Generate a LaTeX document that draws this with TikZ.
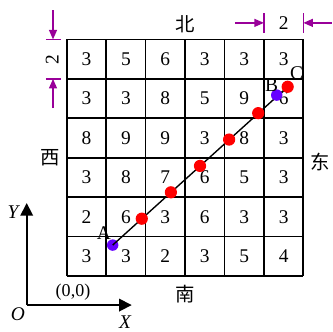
\documentclass[tikz,border=0pt]{standalone}
\usepackage{tikz}
\usetikzlibrary{arrows.meta,positioning,calc}
\usepackage{fontspec}
\setmainfont{Liberation Serif}
\newfontfamily\cjkfont{Noto Sans CJK SC}
\definecolor{dimcol}{RGB}{153,0,153}
\definecolor{startcol}{RGB}{102,0,255}
\definecolor{pathcol}{RGB}{255,0,0}

\begin{document}
\begin{tikzpicture}[
    >={Triangle[length=3.2mm, width=3.2mm]},
    cell/.style={font=\fontsize{14}{16}\selectfont},
    dir/.style={font=\cjkfont\fontsize{14}{16}\selectfont},
    ptlabel/.style={font=\fontsize{14}{16}\selectfont, inner sep=0pt},
    reddot/.style={circle, fill=pathcol, minimum size=3.1mm, inner sep=0pt},
    enddot/.style={circle, fill=startcol, minimum size=2.9mm, inner sep=0pt},
    dimline/.style={dimcol, line width=1pt},
    dimarrow/.style={dimcol, line width=1pt, -{Triangle[length=2.4mm, width=2mm]}},
]
\useasboundingbox (-1.691,-1.395) rectangle (6.752,7.0);

% grid of values
\draw[line width=1.2pt] (0,0) grid (6,6);
\foreach \row/\vals in {1/{3,5,6,3,3,3}, 2/{3,3,8,5,9,6}, 3/{8,9,9,3,8,3},
                        4/{3,8,7,6,5,3}, 5/{2,6,3,6,3,3}, 6/{3,3,2,3,5,4}} {
  \foreach \v [count=\col] in \vals {
    \node[cell] (c\row\col) at (\col-0.5, 6.5-\row) {\v};
  }
}

% directions
\node[dir] (north) at (3,6.39) {北};
\node[dir] (south) at (3,-0.456) {南};
\node[dir] (west) at (-0.423,2.99) {西};
\node[dir] (east) at (6.42,2.9) {东};

% path A -> C
\node[enddot] (A) at (1.166,0.786) {};
\coordinate (C) at (5.603,4.80);
\draw[line width=1pt] (A.center) -- (C);
\foreach \k in {1,...,5} {
  \node[reddot] (p\k) at ($(A)+\k*(0.738,0.669)$) {};
}
\node[enddot] (B) at (5.325,4.589) {};
\node[reddot] (Cdot) at (C) {};
\node[ptlabel] (labA) at (0.946,1.083) {A};
\node[ptlabel] (labB) at (5.198,4.843) {B};
\node[ptlabel] (labC) at (5.832,5.155) {C};

% cell size marks
\coordinate (t1) at (5,6.17);
\coordinate (t1e) at (5,6.676);
\coordinate (t2) at (6,6.17);
\coordinate (t2e) at (6,6.676);
\draw[dimline] (t1) -- (t1e);
\draw[dimline] (t2) -- (t2e);
\coordinate (ta) at (4.267,6.42);
\coordinate (tb) at (6.72,6.42);
\draw[dimarrow] (ta) -- (5,6.42);
\draw[dimarrow] (tb) -- (6,6.42);
\node[cell] (topsize) at (5.5,6.42) {2};

\coordinate (l1) at (-0.525,6);
\coordinate (l1e) at (-0.145,6);
\coordinate (l2) at (-0.525,5);
\coordinate (l2e) at (-0.145,5);
\draw[dimline] (l1) -- (l1e);
\draw[dimline] (l2) -- (l2e);
\coordinate (la) at (-0.347,6.744);
\coordinate (lb) at (-0.347,4.26);
\draw[dimarrow] (la) -- (-0.347,6);
\draw[dimarrow] (lb) -- (-0.347,5);
\node[cell, rotate=90] (leftsize) at (-0.37,5.48) {2};

% axes
\coordinate (O) at (-1.014,-0.735);
\coordinate (Ytip) at (-1.014,1.851);
\coordinate (Xtip) at (1.648,-0.735);
\draw[->, line width=1.2pt] (O) -- (Ytip);
\draw[->, line width=1.2pt] (O) -- (Xtip);
\node[ptlabel, font=\itshape\fontsize{14}{16}\selectfont] (labY) at (-1.36,1.62) {Y};
\node[ptlabel, font=\itshape\fontsize{14}{16}\selectfont] (labX) at (1.478,-1.166) {X};
\node[ptlabel, font=\itshape\fontsize{14}{16}\selectfont] (labO) at (-1.235,-0.963) {O};
\node[ptlabel, font=\fontsize{13}{15}\selectfont] (origin) at (0.16,-0.406) {(0,0)};
\end{tikzpicture}
\end{document}
